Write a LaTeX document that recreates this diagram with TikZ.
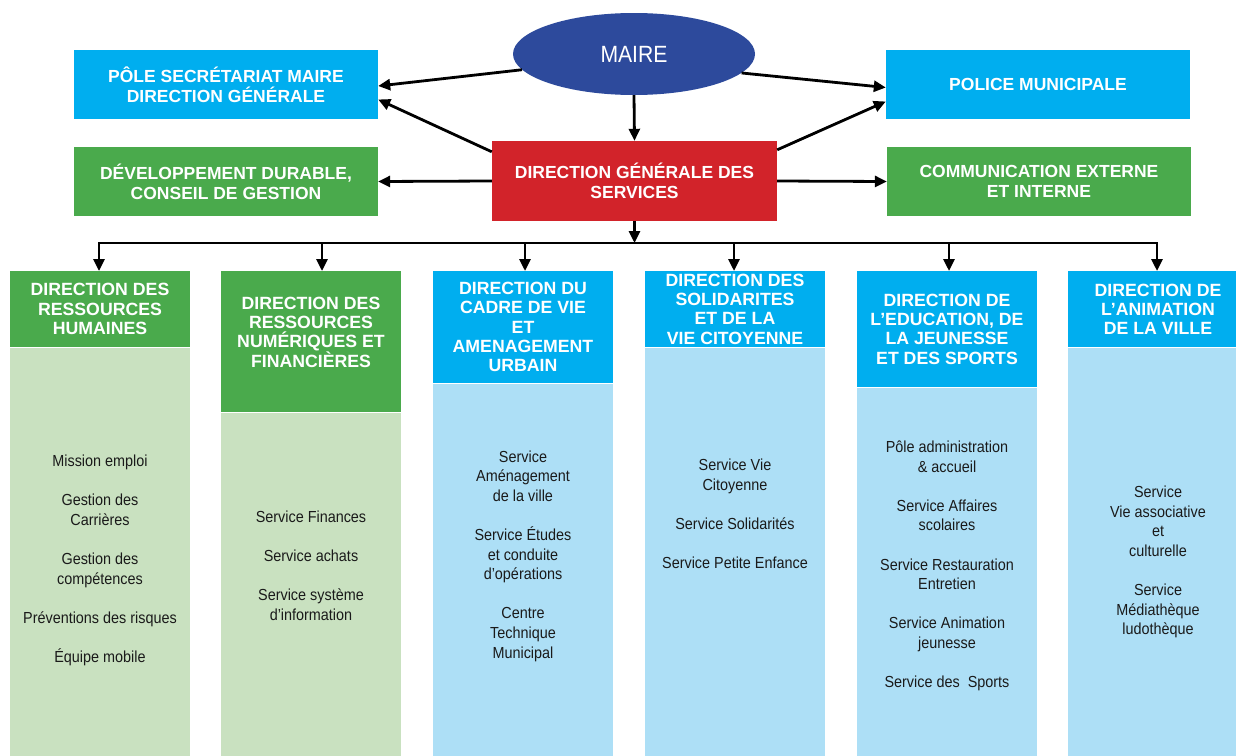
\documentclass[tikz,border=0pt]{standalone}
\usepackage{fontspec}
\setmainfont{Liberation Sans}
\newfontfamily\narrowfont[FakeStretch=0.9]{Liberation Sans}
\usetikzlibrary{arrows.meta,shapes.geometric,calc}
\definecolor{maireblue}{HTML}{2D4A9C}
\definecolor{cyanbox}{HTML}{00AEEF}
\definecolor{greenbox}{HTML}{4AAA4C}
\definecolor{redbox}{HTML}{D2232A}
\definecolor{lightgreen}{HTML}{C9E1C0}
\definecolor{lightblue}{HTML}{ADDFF6}
\definecolor{bodytext}{HTML}{1A1A1A}
\begin{document}
\begin{tikzpicture}[x=1pt,y=-1pt,
  topbox/.style={rectangle, minimum width=304pt, minimum height=69pt, inner sep=0pt,
    text=white, align=center, font=\fontsize{17.5}{20}\selectfont\bfseries},
  hdr/.style={rectangle, minimum width=180pt, inner sep=0pt, text=white, align=center,
    anchor=north, font=\fontsize{17.7}{19.3}\selectfont\bfseries},
  bodybox/.style={rectangle, minimum width=180pt, inner sep=0pt, anchor=north},
  svc/.style={align=center, text=bodytext, inner sep=0pt,
    font=\narrowfont\fontsize{16}{19.6}\selectfont},
  arr/.style={line width=2.8pt, -{Triangle[length=12pt,width=11pt]}},
  busline/.style={line width=2.8pt, line cap=rect}
]
\useasboundingbox (0,0) rectangle (1236,755);
\clip (0,0) rectangle (1236,755);
\fill[white] (0,0) rectangle (1236,755);

% top level
\node[ellipse, fill=maireblue, minimum width=242pt, minimum height=82pt, inner sep=0pt,
  text=white, font=\narrowfont\fontsize{23.5}{26}\selectfont] (maire) at (634,54) {MAIRE};
\node[topbox, fill=cyanbox] (pole) at (226,84.5) {PÔLE SECRÉTARIAT MAIRE\\DIRECTION GÉNÉRALE};
\node[topbox, fill=cyanbox] (police) at (1038,84.5) {POLICE MUNICIPALE};
\node[topbox, fill=greenbox] (dev) at (226,181.5) {DÉVELOPPEMENT DURABLE,\\CONSEIL DE GESTION};
\node[topbox, fill=greenbox] (comm) at (1039,181.5) {COMMUNICATION EXTERNE\\ET INTERNE};
\node[rectangle, fill=redbox, minimum width=285pt, minimum height=80pt, inner sep=0pt,
  text=white, align=center, font=\fontsize{17.5}{19.5}\selectfont\bfseries]
  (dgs) at (634.5,181) {DIRECTION GÉNÉRALE DES\\SERVICES};

% arrows top
\draw[arr] (maire.188) -- ($(pole.east)+(0,1.5)$);
\draw[arr] (maire.-10) -- ($(police.west)+(0,3)$);
\draw[arr] (maire.south) -- (dgs.north);
\draw[arr] ($(dgs.north west)+(0,11)$) -- ($(pole.east)+(0,15)$);
\draw[arr] ($(dgs.north east)+(0,9)$) -- ($(police.west)+(0,17)$);
\draw[arr] (dgs.west) -- (dev.east);
\draw[arr] (dgs.east) -- (comm.west);

% columns: headers
\node[hdr, fill=greenbox, minimum height=76pt] (h1) at (100,271) {DIRECTION DES\\RESSOURCES\\HUMAINES};
\node[hdr, fill=greenbox, minimum height=141pt] (h2) at (311,271) {DIRECTION DES\\RESSOURCES\\NUMÉRIQUES ET\\FINANCIÈRES\\\mbox{}};
\node[hdr, fill=cyanbox, minimum height=112pt] (h3) at (523,271) {DIRECTION DU\\CADRE DE VIE\\ET\\AMENAGEMENT\\URBAIN};
\node[hdr, fill=cyanbox, minimum height=76pt] (h4) at (735,271) {DIRECTION DES\\SOLIDARITES\\ET DE LA\\VIE CITOYENNE};
\node[hdr, fill=cyanbox, minimum height=116pt] (h5) at (947,271) {DIRECTION DE\\L’EDUCATION, DE\\LA JEUNESSE\\ET DES SPORTS};
\node[hdr, fill=cyanbox, minimum height=76pt] (h6) at (1158,271) {DIRECTION DE\\L’ANIMATION\\DE LA VILLE};

% columns: bodies
\node[bodybox, fill=lightgreen, minimum height=408pt] (k1) at (h1.south) {};
\node[bodybox, fill=lightgreen, minimum height=343pt] (k2) at (h2.south) {};
\node[bodybox, fill=lightblue, minimum height=372pt] (k3) at (h3.south) {};
\node[bodybox, fill=lightblue, minimum height=408pt] (k4) at (h4.south) {};
\node[bodybox, fill=lightblue, minimum height=368pt] (k5) at (h5.south) {};
\node[bodybox, fill=lightblue, minimum height=408pt] (k6) at (h6.south) {};

% bus
\coordinate (b1) at (99,243);
\coordinate (b2) at (322,243);
\coordinate (b3) at (525,243);
\coordinate (b4) at (734,243);
\coordinate (b5) at (949,243);
\coordinate (b6) at (1157,243);
\draw[busline] (b1) -- (b6);
\draw[arr] (dgs.south) -- (dgs.south |- b1);
\draw[arr] (b1) -- (b1 |- h1.north);
\draw[arr] (b2) -- (b2 |- h2.north);
\draw[arr] (b3) -- (b3 |- h3.north);
\draw[arr] (b4) -- (b4 |- h4.north);
\draw[arr] (b5) -- (b5 |- h5.north);
\draw[arr] (b6) -- (b6 |- h6.north);

% services
\node[svc] (s1) at (100,560.5) {Mission emploi\\[19.6pt]Gestion des\\Carrières\\[19.6pt]Gestion des\\compétences\\[19.6pt]Préventions des risques\\[19.6pt]Équipe mobile};
\node[svc] (s2) at (311,565.5) {Service Finances\\[19.6pt]Service achats\\[19.6pt]Service système\\d’information};
\node[svc] (s3) at (523,556) {Service\\Aménagement\\de la ville\\[19.6pt]Service Études\\et conduite\\d’opérations\\[19.6pt]Centre\\Technique\\Municipal};
\node[svc] (s4) at (735,514) {Service Vie\\Citoyenne\\[19.6pt]Service Solidarités\\[19.6pt]Service Petite Enfance};
\node[svc] (s5) at (947,566) {Pôle administration\\\& accueil\\[19.6pt]Service Affaires\\scolaires\\[19.6pt]Service Restauration\\Entretien\\[19.6pt]Service Animation\\jeunesse\\[19.6pt]Service des\ \ Sports};
\node[svc] (s6) at (1158,562) {Service\\Vie associative\\et\\culturelle\\[19.6pt]Service\\Médiathèque\\ludothèque};
\end{tikzpicture}
\end{document}
